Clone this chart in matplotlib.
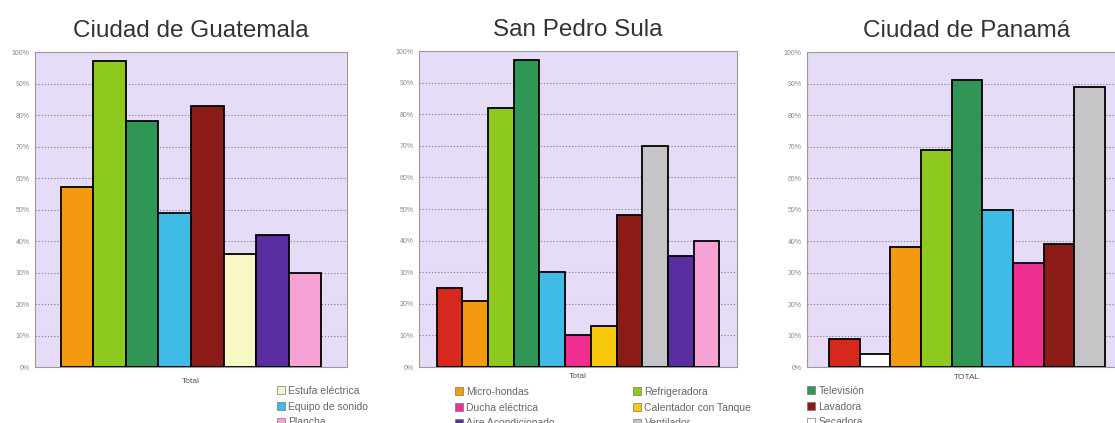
import matplotlib.pyplot as plt
from matplotlib.patches import Patch

plt.rcParams["font.family"] = ["Liberation Sans", "DejaVu Sans"]

# colours per appliance
colores = {
    "Computadora": "#D6281D",
    "Micro-hondas": "#F49A10",
    "Refrigeradora": "#8DC91F",
    "Televisión": "#2F9656",
    "Equipo de sonido": "#3EBCE6",
    "Ducha eléctrica": "#EE2E90",
    "Calentador con Tanque": "#F7C80A",
    "Lavadora": "#8A1B17",
    "Ventilador": "#C6C4C6",
    "Aire Acondicionado": "#5A2EA0",
    "Plancha": "#F6A2D4",
    "Estufa eléctrica": "#F7F8C4",
    "Secadora": "#FFFFFF",
}

guate_cat = ["Micro-hondas", "Refrigeradora", "Televisión", "Equipo de sonido",
             "Lavadora", "Estufa eléctrica", "Aire Acondicionado", "Plancha"]
guate_val = [57, 97, 78, 49, 83, 36, 42, 30]

sps_cat = ["Computadora", "Micro-hondas", "Refrigeradora", "Televisión",
           "Equipo de sonido", "Ducha eléctrica", "Calentador con Tanque",
           "Lavadora", "Ventilador", "Aire Acondicionado", "Plancha"]
sps_val = [25, 21, 82, 97, 30, 10, 13, 48, 70, 35, 40]

pan_cat = ["Computadora", "Secadora", "Micro-hondas", "Refrigeradora",
           "Televisión", "Equipo de sonido", "Ducha eléctrica", "Lavadora",
           "Ventilador"]
pan_val = [9, 4, 38, 69, 91, 50, 33, 39, 89]

titulos = ["Ciudad de Guatemala", "San Pedro Sula", "Ciudad de Panamá"]
etiquetas_x = ["Total", "Total", "TOTAL"]
yticks = list(range(0, 101, 10))

# legend columns: (entries, x pixel, y pixel of top)
leyendas = [
    [(["Estufa eléctrica", "Equipo de sonido", "Plancha"], 277, 386)],
    [(["Micro-hondas", "Ducha eléctrica", "Aire Acondicionado"], 455, 387),
     (["Refrigeradora", "Calentador con Tanque", "Ventilador"], 633, 387)],
    [(["Televisión", "Lavadora", "Secadora"], 807, 386)],
]

W, H = 1115, 423
fig = plt.figure(figsize=(W / 100, H / 100), dpi=100)

# axes boxes in pixels: left, right, top, bottom
cajas = [(35, 347, 52, 367), (419, 737, 51, 367), (807, 1127, 52, 367)]
margenes = [0.79, 0.69, 0.72]
datos = [(guate_cat, guate_val), (sps_cat, sps_val), (pan_cat, pan_val)]
pads_x = [8, 4, 5]

for i, ((cats, vals), (l, r, t, b)) in enumerate(zip(datos, cajas)):
    ax = fig.add_axes([l / W, (H - b) / H, (r - l) / W, (b - t) / H])
    ax.set_facecolor("#E6DCF7")
    x = list(range(len(vals)))
    ax.bar(x, vals, width=1.0, color=[colores[c] for c in cats],
           edgecolor="black", linewidth=1.3, zorder=3)
    ax.set_xlim(-0.5 - margenes[i], len(vals) - 0.5 + margenes[i])
    ax.set_ylim(0, 100)
    ax.set_yticks(yticks)
    ax.set_yticklabels([f"{v}%" for v in yticks])
    ax.set_xticks([])
    ax.tick_params(axis="y", length=0, labelsize=5, labelcolor="#8A8A8A", pad=4)
    ax.yaxis.grid(True, linestyle=(0, (1.2, 1.6)), color="#8E8A99", linewidth=0.8, zorder=0)
    for s in ax.spines.values():
        s.set_color("#9A9A9A")
        s.set_linewidth(0.8)
    ax.set_title(titulos[i], fontsize=17.5, color="#333333", pad=11)
    ax.set_xlabel(etiquetas_x[i], fontsize=6, color="#555555", labelpad=pads_x[i])

    for nombres, px, py in leyendas[i]:
        handles = [Patch(facecolor=colores[n], edgecolor="#777777", linewidth=0.5)
                   for n in nombres]
        leg = fig.legend(handles, nombres, loc="upper left",
                         bbox_to_anchor=(px / W, (H - py) / H), frameon=False,
                         fontsize=7.5, handlelength=0.8, handleheight=0.8,
                         handletextpad=0.3, labelspacing=0.55, borderpad=0,
                         borderaxespad=0)
        for txt in leg.get_texts():
            txt.set_color("#666666")

fig.savefig("out.png", dpi=100)
